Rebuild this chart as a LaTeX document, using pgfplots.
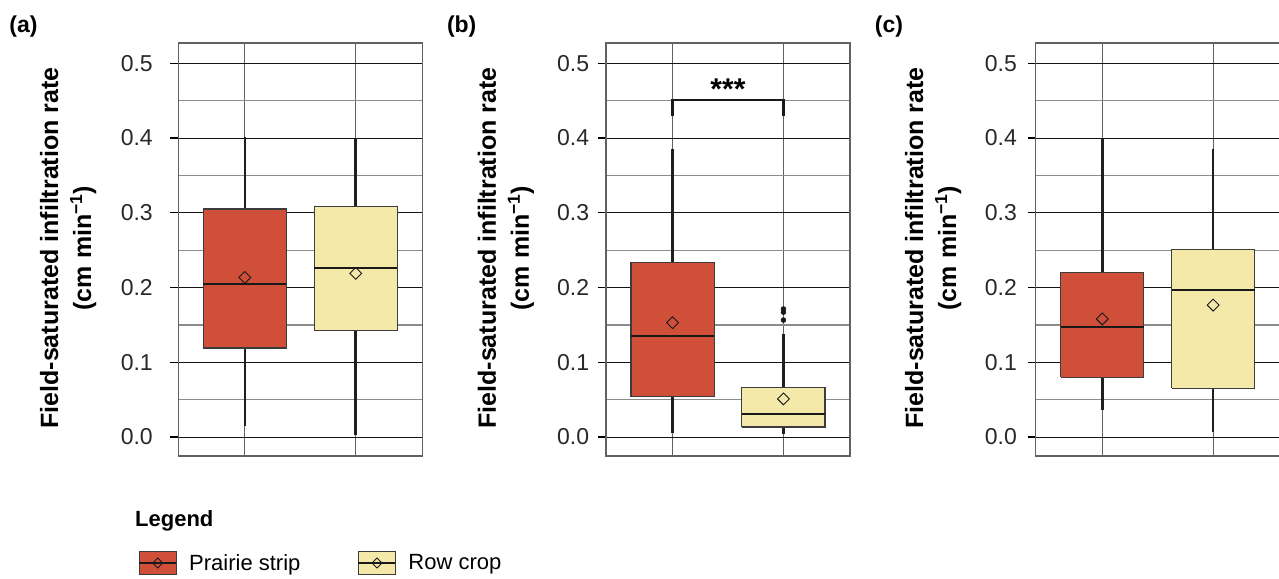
\documentclass[border=0pt]{standalone}
\usepackage{pgfplots}
\pgfplotsset{compat=1.18}
\usepackage{fontspec}
\setmainfont{Liberation Sans}
\definecolor{prRed}{RGB}{208,79,57}
\definecolor{rcYel}{RGB}{245,233,169}
\definecolor{boxedge}{RGB}{60,60,60}
\definecolor{ticktext}{RGB}{40,40,40}
\pgfplotsset{
  panel/.style={
    scale only axis, width=244pt, height=413pt,
    anchor=north west,
    xmin=0.4, xmax=2.6, ymin=-0.0254, ymax=0.5272,
    xtick={1,2}, xticklabels={},
    ytick={0,0.1,0.2,0.3,0.4,0.5},
    minor ytick={0.05,0.15,0.25,0.35,0.45},
    ytick pos=left,
    xmajorgrids, ymajorgrids, yminorgrids,
    major x grid style={black!62, line width=1.2pt},
    major y grid style={black!92, line width=1.0pt},
    minor y grid style={black!45, line width=1.3pt},
    axis line style={black!62, line width=1.2pt},
    tick align=outside, major tick length=8pt, minor tick length=0pt,
    x tick style={draw=none},
    y tick style={black, line width=1.2pt},
    yticklabel style={font=\fontsize{23}{26}\selectfont, text=ticktext,
      /pgf/number format/fixed, /pgf/number format/fixed zerofill,
      /pgf/number format/precision=1},
    /pgf/number format/assume math mode=true,
    ylabel={Field-saturated infiltration rate\\(cm min\textsuperscript{−1})},
    ylabel style={font=\bfseries\fontsize{25}{33}\selectfont, align=center, anchor=center},
  },
  whisk/.style={black!88, line width=2.6pt, mark=none},
  med/.style={black!90, line width=2.2pt, mark=none},
  boxR/.style={fill=prRed, draw=boxedge, line width=1.2pt, mark=none, line join=miter},
  boxY/.style={fill=rcYel, draw=boxedge, line width=1.2pt, mark=none, line join=miter},
  meanmark/.style={only marks, mark=square, mark size=4.2pt,
    mark options={rotate=45, draw=black!90, line width=0.9pt, fill=none}},
}
\begin{document}
\begin{tikzpicture}
\useasboundingbox (0pt,-578pt) rectangle (1279pt,0pt);
% ---------- (a)
\begin{axis}[panel, at={(178.3pt,-43pt)},
  ylabel style={at={(rel axis cs:-0.451,0.5036)}},
  yticklabel style={xshift=-14pt},
  legend columns=2,
  legend cell align=left,
  legend style={at={(-0.1652,-0.2591)}, anchor=west, draw=none, fill=none,
    inner sep=0pt, font=\fontsize{22}{26}\selectfont,
    /tikz/every odd column/.append style={column sep=10pt},
    /tikz/every even column/.append style={column sep=55pt}},
]
\addlegendimage{legend image code/.code={
  \draw[fill=prRed, draw=boxedge, line width=1.2pt] (0pt,-11.5pt) rectangle (37pt,11.5pt);
  \draw[line width=2pt, black!90] (0pt,0pt) -- (37pt,0pt);
  \draw[black!90, line width=0.9pt] (18.5pt,5pt) -- (23.5pt,0pt) -- (18.5pt,-5pt) -- (13.5pt,0pt) -- cycle;}}
\addlegendentry{Prairie strip}
\addlegendimage{legend image code/.code={
  \draw[fill=rcYel, draw=boxedge, line width=1.2pt] (0pt,-11.5pt) rectangle (37pt,11.5pt);
  \draw[line width=2pt, black!90] (0pt,0pt) -- (37pt,0pt);
  \draw[black!90, line width=0.9pt] (18.5pt,5pt) -- (23.5pt,0pt) -- (18.5pt,-5pt) -- (13.5pt,0pt) -- cycle;}}
\addlegendentry{Row crop}
% Prairie strip (a): whiskers 0.015-0.402, box 0.119-0.305, median 0.205
\addplot[whisk] coordinates {(1,0.015) (1,0.119)};
\addplot[whisk] coordinates {(1,0.305) (1,0.402)};
\addplot[boxR] coordinates {(0.625,0.119) (1.375,0.119) (1.375,0.305) (0.625,0.305) (0.625,0.119)};
\addplot[med] coordinates {(0.625,0.205) (1.375,0.205)};
% Row crop (a): whiskers 0.003-0.399, box 0.143-0.308, median 0.226
\addplot[whisk] coordinates {(2,0.003) (2,0.143)};
\addplot[whisk] coordinates {(2,0.308) (2,0.399)};
\addplot[boxY] coordinates {(1.625,0.143) (2.375,0.143) (2.375,0.308) (1.625,0.308) (1.625,0.143)};
\addplot[med] coordinates {(1.625,0.226) (2.375,0.226)};
\addplot[meanmark] coordinates {(1,0.2135) (2,0.219)};
\end{axis}
\node[anchor=center, inner sep=0pt, font=\bfseries\fontsize{23}{23}\selectfont] at (23.5pt,-26.5pt) {(a)};
% ---------- (b)
\begin{axis}[panel, at={(606pt,-43pt)},
  ylabel style={at={(rel axis cs:-0.410,0.5036)}},
  yticklabel style={xshift=-5.3pt},
]
\addplot[whisk] coordinates {(1,0.005) (1,0.054)};
\addplot[whisk] coordinates {(1,0.233) (1,0.386)};
\addplot[boxR] coordinates {(0.625,0.054) (1.375,0.054) (1.375,0.233) (0.625,0.233) (0.625,0.054)};
\addplot[med] coordinates {(0.625,0.1354) (1.375,0.1354)};
\addplot[whisk] coordinates {(2,0.004) (2,0.0134)};
\addplot[whisk] coordinates {(2,0.066) (2,0.138)};
\addplot[boxY] coordinates {(1.625,0.0134) (2.375,0.0134) (2.375,0.066) (1.625,0.066) (1.625,0.0134)};
\addplot[med] coordinates {(1.625,0.0303) (2.375,0.0303)};
\addplot[only marks, mark=*, mark size=2.5pt, black!90] coordinates {(2,0.1713) (2,0.167) (2,0.1565)};
\addplot[meanmark] coordinates {(1,0.153) (2,0.051)};
\addplot[black!90, line width=2.4pt, mark=none] coordinates {(1,0.430) (1,0.451) (2,0.451) (2,0.430)};
\node[anchor=north, inner sep=0pt, font=\bfseries\fontsize{30}{30}\selectfont] at (axis cs:1.5,0.479) {***};
\end{axis}
\node[anchor=center, inner sep=0pt, font=\bfseries\fontsize{23}{23}\selectfont] at (461.7pt,-26.5pt) {(b)};
% ---------- (c)
\begin{axis}[panel, at={(1035.7pt,-43pt)},
  ylabel style={at={(rel axis cs:-0.420,0.5036)}},
  yticklabel style={xshift=-7.3pt},
]
\addplot[whisk] coordinates {(1,0.036) (1,0.080)};
\addplot[whisk] coordinates {(1,0.2197) (1,0.399)};
\addplot[boxR] coordinates {(0.625,0.080) (1.375,0.080) (1.375,0.2197) (0.625,0.2197) (0.625,0.080)};
\addplot[med] coordinates {(0.625,0.147) (1.375,0.147)};
\addplot[whisk] coordinates {(2,0.007) (2,0.065)};
\addplot[whisk] coordinates {(2,0.251) (2,0.386)};
\addplot[boxY] coordinates {(1.625,0.065) (2.375,0.065) (2.375,0.251) (1.625,0.251) (1.625,0.065)};
\addplot[med] coordinates {(1.625,0.1965) (2.375,0.1965)};
\addplot[meanmark] coordinates {(1,0.158) (2,0.1765)};
\end{axis}
\node[anchor=center, inner sep=0pt, font=\bfseries\fontsize{23}{23}\selectfont] at (889pt,-26.5pt) {(c)};
% ---------- legend title
\node[anchor=base west, inner sep=0pt, font=\bfseries\fontsize{22}{22}\selectfont] at (135pt,-526pt) {Legend};
\end{tikzpicture}
\end{document}
